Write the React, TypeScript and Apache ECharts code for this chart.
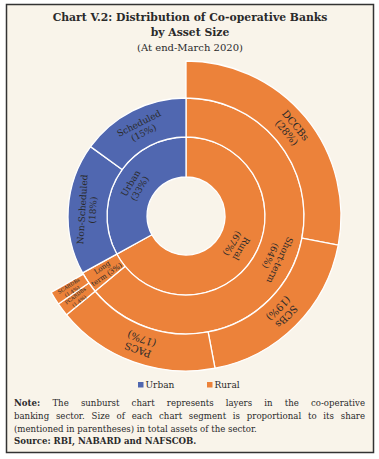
import React, { useEffect, useRef } from 'react';
import * as echarts from 'echarts';

// ---------- data ----------
const sectors = ['Rural', 'Urban'];
const sectorShares = [67, 33];
const tiers = ['Short-term', 'Long-term', 'Non-Scheduled', 'Scheduled'];
const tierParents = ['Rural', 'Rural', 'Urban', 'Urban'];
const tierShares = [64, 3, 18, 15];
const institutions = ['DCCBs', 'SCBs', 'PACS', 'PCARDBs', 'SCARDBs'];
const institutionParents = ['Short-term', 'Short-term', 'Short-term', 'Long-term', 'Long-term'];
const institutionShares = [28, 19, 17, 1.4, 1.4];
const legendItems = ['Urban', 'Rural'];

const titleLines = ['Chart V.2: Distribution of Co-operative Banks', 'by Asset Size'];
const subtitle = '(At end-March 2020)';
const noteLines = [
  'Note: The sunburst chart represents layers in the co-operative',
  'banking sector. Size of each chart segment is proportional to its share',
  '(mentioned in parentheses) in total assets of the sector.',
];
const sourceLine = 'Source: RBI, NABARD and NAFSCOB.';

// ---------- style ----------
const COLORS: Record<string, string> = { Rural: '#EC823A', Urban: '#5067B0' };
const SERIF = '"DejaVu Serif", serif';
const TEXT = '#2a2a2a';
const NOTE_SIZE = 8.6;

function normDeg(d: number) {
  let r = d % 360;
  if (r > 180) r -= 360;
  if (r <= -180) r += 360;
  return r;
}

function makeNode(name: string, value: number, start: number, level: number, sector: string): any {
  const bearing = (start + value / 2) * 3.6;
  const narrow = value < 5;
  const rotate = normDeg(narrow ? 270 - bearing : -bearing);
  let fontSize = level === 3 ? 10 : 9;
  if (narrow) fontSize = level === 3 ? 5 : 7;
  const text = name === 'Long-term' ? 'Long\nterm (' + value + '%)' : name + '\n(' + value + '%)';
  return {
    name,
    value,
    itemStyle: { color: COLORS[sector] },
    label: {
      rotate,
      fontSize,
      lineHeight: fontSize + 1.5,
      formatter: text,
    },
  };
}

function buildTree() {
  let secStart = 0;
  return sectors.map((s, i) => {
    const sv = sectorShares[i];
    const secNode = makeNode(s, sv, secStart, 1, s);
    let tStart = secStart;
    secNode.children = tiers
      .map((t, j) => ({ t, j }))
      .filter((x) => tierParents[x.j] === s)
      .map(({ t, j }) => {
        const tv = tierShares[j];
        const node = makeNode(t, tv, tStart, 2, s);
        let iStart = tStart;
        const kids = institutions
          .map((n, k) => ({ n, k }))
          .filter((x) => institutionParents[x.k] === t)
          .map(({ n, k }) => {
            const v = institutionShares[k];
            const nd = makeNode(n, v, iStart, 3, s);
            iStart += v;
            return nd;
          });
        if (kids.length) node.children = kids;
        tStart += tv;
        return node;
      });
    secStart += sv;
    return secNode;
  });
}

function measure(text: string, font: string): number {
  const c = document.createElement('canvas');
  const ctx = c.getContext('2d')!;
  ctx.font = font;
  return ctx.measureText(text).width;
}

function justifiedLine(line: string, y: number, x0: number, x1: number, boldFirst: boolean): any[] {
  const words = line.split(' ');
  const fonts = words.map((_, i) => ((boldFirst && i === 0) ? 'bold ' : '') + NOTE_SIZE + 'px "DejaVu Serif"');
  const widths = words.map((w, i) => measure(w, fonts[i]));
  const total = widths.reduce((a, b) => a + b, 0);
  const gap = (x1 - x0 - total) / (words.length - 1);
  let x = x0;
  return words.map((w, i) => {
    const el = {
      type: 'text',
      x,
      y,
      style: {
        text: w,
        font: fonts[i],
        fill: TEXT,
        textVerticalAlign: 'middle',
      },
    };
    x += widths[i] + gap;
    return el;
  });
}

export default function App() {
  const ref = useRef<HTMLDivElement>(null);
  useEffect(() => {
    document.body.style.margin = '0';
    const chart = echarts.init(ref.current!, undefined, { renderer: 'svg' });
    const graphics: any[] = [
      {
        type: 'rect',
        z: -10,
        shape: { x: 6.5, y: 4.5, width: 367, height: 448 },
        style: { fill: '#F9F4EA', stroke: '#333', lineWidth: 1.5 },
      },
      {
        type: 'text',
        x: 190,
        y: 17,
        style: { text: titleLines[0], font: 'bold 10.8px "DejaVu Serif"', fill: TEXT, textAlign: 'center', textVerticalAlign: 'middle' },
      },
      {
        type: 'text',
        x: 190,
        y: 32,
        style: { text: titleLines[1], font: 'bold 10.8px "DejaVu Serif"', fill: TEXT, textAlign: 'center', textVerticalAlign: 'middle' },
      },
      {
        type: 'text',
        x: 190,
        y: 47,
        style: { text: subtitle, font: '10px "DejaVu Serif"', fill: TEXT, textAlign: 'center', textVerticalAlign: 'middle' },
      },
    ];
    // legend
    const legendX = [138, 207];
    legendItems.forEach((name, i) => {
      graphics.push({
        type: 'rect',
        shape: { x: legendX[i], y: 382, width: 5.5, height: 5.5 },
        style: { fill: COLORS[name] },
      });
      graphics.push({
        type: 'text',
        x: legendX[i] + 7.5,
        y: 385,
        style: { text: name, font: '9px "DejaVu Serif"', fill: TEXT, textVerticalAlign: 'middle' },
      });
    });
    // notes
    const noteY = [403, 416, 428.5];
    graphics.push(...justifiedLine(noteLines[0], noteY[0], 14, 365, true));
    graphics.push(...justifiedLine(noteLines[1], noteY[1], 14, 365, false));
    graphics.push({
      type: 'text',
      x: 14,
      y: noteY[2],
      style: { text: noteLines[2], font: NOTE_SIZE + 'px "DejaVu Serif"', fill: TEXT, textVerticalAlign: 'middle' },
    });
    graphics.push({
      type: 'text',
      x: 14,
      y: 441,
      style: { text: sourceLine, font: 'bold ' + NOTE_SIZE + 'px "DejaVu Serif"', fill: TEXT, textVerticalAlign: 'middle' },
    });

    chart.setOption({
      animation: false,
      backgroundColor: '#ffffff',
      graphic: graphics,
      series: [
        {
          type: 'sunburst',
          center: [186, 216],
          radius: [39, 155],
          sort: null,
          startAngle: 90,
          clockwise: true,
          nodeClick: false,
          emphasis: { disabled: true },
          itemStyle: { borderColor: '#ffffff', borderWidth: 1.3 },
          label: { color: TEXT, fontFamily: SERIF, fontSize: 9 },
          levels: [
            {},
            { r0: 39, r: 79 },
            { r0: 79, r: 118 },
            { r0: 118, r: 155 },
          ],
          data: buildTree(),
        },
      ],
    });
    return () => chart.dispose();
  }, []);
  return <div ref={ref} style={{ width: 379, height: 459 }} />;
}
